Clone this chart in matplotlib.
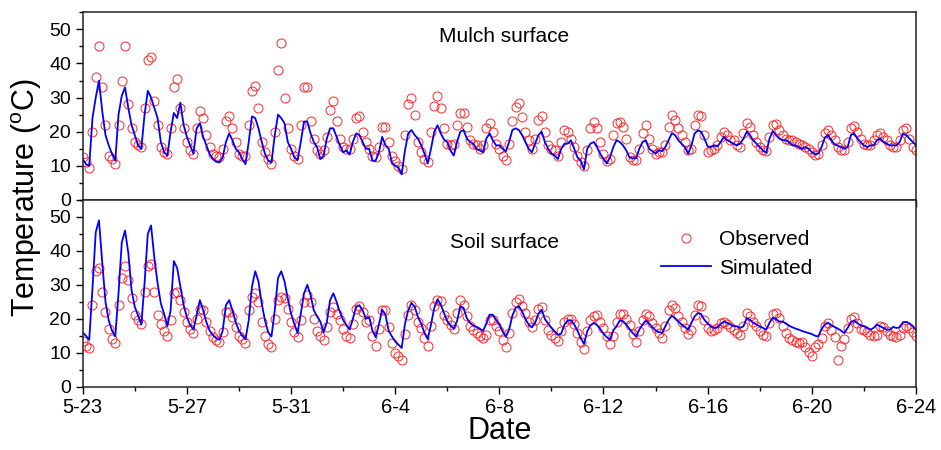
import numpy as np
import matplotlib
matplotlib.use('Agg')
import matplotlib.pyplot as plt
from matplotlib.ticker import MultipleLocator

plt.rcParams['font.family'] = ['Liberation Sans', 'DejaVu Sans']
plt.rcParams['mathtext.fontset'] = 'custom'
plt.rcParams['mathtext.rm'] = 'Liberation Sans'

# readings every 3 h (0, 3, ..., 21 h), one row per day starting 5-23
hours = [0, 3, 6, 9, 12, 15, 18, 21]
tick_days = [0, 4, 8, 12, 16, 20, 24, 28, 32]
tick_labels = ['5-23', '5-27', '5-31', '6-4', '6-8', '6-12', '6-16', '6-20', '6-24']

mulch_obs = [
    [12.5, 11, 9.5, 20, 36, 45, 33, 22],
    [13, 12, 10.5, 22, 35, 45, 28, 21],
    [17, 16, 15.5, 27, 41, 42, 29, 22],
    [15.5, 14, 13.5, 21, 33, 35.5, 27, 21],
    [17, 14.5, 13.5, 21, 26, 24, 19, 15.5],
    [13.5, 13, 12.5, 15, 23, 24.5, 21, 17],
    [13.5, 13, 13, 22, 32, 33.5, 27, 17],
    [14, 12, 10.5, 20, 38, 46, 30, 21],
    [15, 13, 12, 22, 33, 33, 23, 18],
    [14.5, 13.5, 14.5, 18.5, 26.5, 29, 23, 18],
    [15.5, 15, 15, 18, 24, 24.5, 20, 17],
    [15, 13, 12.5, 15.5, 21.5, 21.5, 17, 13],
    [11.5, 10, 9, 19, 28, 30, 25, 17],
    [14, 12, 11.2, 20, 27.5, 30.5, 27, 21],
    [16.5, 16, 16.5, 22, 25.5, 25.4, 21.4, 17.7],
    [16.5, 16, 15, 16, 21, 22.5, 20, 16.5],
    [15, 13, 11.7, 16.5, 23, 27.3, 28.3, 24.4],
    [20, 17.5, 15, 18, 23.5, 24.5, 20, 16],
    [15, 14.5, 13, 17, 20.5, 20, 18, 15.5],
    [13, 11, 10, 14.5, 21, 22.8, 21, 17],
    [13.5, 11.5, 12, 19, 22.5, 22.8, 21.5, 18],
    [12.5, 11.8, 11.7, 15, 19.5, 22, 18, 15],
    [13.6, 14, 14, 16, 21.4, 24.8, 23.4, 21],
    [19, 17, 14.5, 15, 22, 25, 24.5, 19],
    [14, 14.5, 15, 16, 18.5, 19.8, 19, 17.5],
    [17.5, 16, 15.5, 19.5, 22.5, 21.5, 19, 17],
    [15.5, 14.5, 14.4, 18.5, 21.9, 22.2, 20.6, 19],
    [18, 17.5, 17.5, 17, 16.5, 16, 15.5, 15],
    [14, 13.2, 13.5, 16, 19.5, 20.4, 19, 17.5],
    [15.5, 14.5, 14.6, 17, 21, 21.8, 20, 18],
    [16.5, 16, 16, 17.5, 19, 19.5, 18.5, 17.5],
    [16, 15.5, 15.5, 17.5, 20.5, 21, 18, 15.5],
]
mulch_obs_end = 14.5

mulch_sim = [
    [12, 10.5, 10, 24, 30, 35, 26, 19],
    [16, 13.5, 11.5, 25, 30.5, 33, 27, 22],
    [19, 16, 15, 25, 32, 30, 27, 24],
    [17, 14, 13, 20, 25.5, 24, 28.5, 22],
    [18.5, 16, 13.6, 21, 22.5, 18.5, 16, 13.5],
    [12, 11.2, 11, 12.5, 17, 19.5, 17.5, 15],
    [14, 12, 10.5, 17, 24.5, 24, 21, 17],
    [13.5, 11.5, 11, 19, 25, 24, 22.5, 17],
    [15, 12.5, 11.7, 17, 23, 23, 19.5, 17],
    [15.5, 12, 13, 18, 21, 21, 18.5, 16],
    [14, 14.5, 13.3, 17, 19.5, 19, 17, 15],
    [15, 11.5, 11.5, 14, 18.5, 16, 15, 11],
    [10, 9.5, 7.5, 14.5, 19.5, 20.5, 19, 18],
    [16, 13.6, 10.7, 15, 20, 21.9, 19.5, 17.7],
    [17, 14.5, 13, 17, 20, 20.5, 18, 17],
    [16.5, 15, 14.5, 14, 18, 19.5, 17.5, 16],
    [16, 15, 14.2, 17, 20.5, 21, 20.5, 19],
    [17, 15, 14, 16.5, 19, 20, 17, 15],
    [13.5, 13, 12, 15, 16.5, 16.5, 17.5, 15],
    [12.5, 11.5, 9, 15, 16.5, 17, 15.5, 13.5],
    [12, 10.7, 12.5, 15.5, 17.5, 17, 16, 14.5],
    [12.5, 12.2, 12.2, 15, 17, 17.5, 15, 14.3],
    [13.6, 14.6, 14.3, 15.5, 17.5, 19.6, 19, 17.5],
    [16.5, 15.5, 13.5, 16, 19.5, 20.4, 20, 18],
    [15.7, 15.5, 16, 15.7, 17, 18.5, 17.5, 17],
    [16.5, 16, 16.5, 18, 20, 19, 17.5, 16.5],
    [15.5, 14.5, 13.8, 18, 20.2, 19, 18, 17.5],
    [17.5, 17, 16, 16, 15.5, 15, 15.5, 15],
    [14, 13.4, 13.6, 15.5, 18.3, 19, 17.5, 16.3],
    [15.9, 15.5, 15, 15.5, 19, 19.5, 18, 17],
    [16, 15.5, 16, 16, 17.5, 18, 17, 16.5],
    [16, 16, 16, 17, 19.5, 19, 18, 17],
]
mulch_sim_end = 16

soil_obs = [
    [13.5, 12, 11.5, 24, 34, 35, 28, 22],
    [17, 14, 12.8, 24, 32, 35.5, 31.5, 26],
    [21, 19.5, 18.5, 28, 35.5, 36, 28, 21],
    [18.5, 16.5, 14.8, 19.5, 27.5, 28, 25.5, 22],
    [19, 17, 15.8, 20, 23, 22.5, 19, 16.5],
    [14.5, 13.8, 13.3, 16, 22, 22, 20.5, 17.5],
    [15, 14, 13, 22.5, 26.5, 27.5, 25, 19],
    [15, 12.5, 11.8, 20, 25.5, 26.5, 26, 23],
    [19, 16, 14.5, 19.5, 25, 27, 25, 20],
    [16.5, 15, 13.8, 17.5, 22, 23.5, 21.5, 19.5],
    [17, 15, 14.3, 18.5, 23, 23.7, 22, 19],
    [19.5, 15, 12, 17, 22.5, 22.5, 17.5, 13],
    [10, 9, 8, 15.5, 21, 24, 22.5, 19],
    [17.3, 14.3, 12, 17.8, 23.7, 25.5, 25.2, 21.2],
    [19.5, 18.1, 17, 21.7, 25.4, 24.2, 20.7, 17.8],
    [16.8, 15.8, 15, 14.2, 15.3, 19.7, 19.5, 17.8],
    [16.3, 13.8, 11.7, 15.8, 21.7, 24.9, 25.7, 23.7],
    [21.7, 19.2, 17.6, 19.7, 22.9, 23.5, 19.7, 16.6],
    [15.3, 14.3, 13.6, 16.3, 19.2, 19.9, 19.9, 18.6],
    [15.8, 13.3, 11.1, 16.3, 19.5, 20.9, 21.1, 19.2],
    [17.3, 14.8, 12.6, 14.8, 19.2, 21.4, 21.5, 19.9],
    [18.3, 15.6, 13.3, 16.3, 19.5, 21.5, 20.7, 18.8],
    [17.3, 15.8, 14.3, 17.8, 22.7, 24.2, 23.2, 20.9],
    [19, 17.3, 15.6, 16.8, 21.2, 24.2, 23.9, 19.7],
    [17.3, 16.5, 16.8, 17.3, 18.8, 19.2, 18.6, 17.6],
    [16.8, 15.8, 15.2, 17.8, 21.7, 20.7, 19.2, 18],
    [16.3, 15.3, 14.8, 18.8, 21.5, 21.7, 20.2, 17.8],
    [15.8, 14.3, 13.8, 13.3, 12.8, 13.3, 11.7, 10.1],
    [8.9, 11.7, 12.5, 14.3, 17.8, 18.8, 16.6, 14.6],
    [7.9, 12, 14, 17.3, 19.9, 20.5, 18.8, 17],
    [16.6, 16.1, 15.3, 15, 15.3, 18, 17.6, 16.5],
    [15.3, 14.8, 14.5, 15.3, 17.3, 18, 17.3, 16],
]
soil_obs_end = 14.8

soil_sim = [
    [16, 15, 13.8, 29, 45.5, 49, 36.5, 25],
    [19.5, 16.5, 14.8, 27.5, 42.5, 46, 39.5, 28.5],
    [23.5, 21, 18.3, 30.5, 45, 47.5, 38, 30.5],
    [24.5, 21.5, 17.8, 22.5, 37, 35, 29.5, 24],
    [20.5, 18.2, 16.8, 21, 25.5, 22.5, 19, 16.5],
    [15.2, 14.3, 13.8, 16.5, 24, 25.5, 22.5, 19],
    [16.5, 15, 14, 19.5, 29.5, 34, 31, 24.5],
    [19.5, 16, 14.8, 22.5, 32, 34, 31, 26],
    [21.5, 18.5, 15.8, 21.5, 27.5, 30, 27, 22.5],
    [20.7, 19.2, 16, 19, 25.5, 27.5, 25, 22],
    [19.7, 18.2, 16.8, 20, 23.5, 24, 22.5, 20],
    [20.5, 16.5, 14.6, 18.3, 22.7, 21.2, 16.5, 14.8],
    [13.3, 12.4, 11.4, 18.5, 22.5, 24.7, 23.5, 20.5],
    [18.6, 15.8, 14, 18.3, 23.2, 25.7, 24.2, 21.7],
    [19.3, 18, 17.1, 19.3, 23.7, 23.2, 20.2, 18.8],
    [18, 17.6, 17.1, 16.4, 18.6, 21.2, 21.2, 19.7],
    [18.3, 16.3, 14.7, 16.8, 20.9, 23.2, 23.7, 22.2],
    [19.9, 18.3, 17.5, 18.8, 21.5, 22.7, 19.9, 18.6],
    [17.3, 16.3, 15.3, 15.6, 18.3, 19.5, 19.6, 18.3],
    [16.5, 14.3, 12.6, 16.3, 18.1, 18.8, 18.2, 17],
    [15.6, 14.6, 13.8, 16.6, 17.8, 19.5, 19.3, 18.3],
    [17, 15.8, 14.8, 16.8, 18.3, 19.5, 18.6, 17.5],
    [16.6, 16.1, 15.8, 17.8, 19.7, 20.9, 20.2, 19.2],
    [18.3, 17.6, 16.8, 18.8, 20.7, 21.7, 21.4, 19.7],
    [18.6, 17.7, 17.3, 17.4, 18.5, 19.2, 18.8, 18.3],
    [17.8, 17.8, 17.3, 17.8, 20.2, 19.7, 18.8, 18.3],
    [17.8, 17.3, 16.8, 18.8, 20.3, 19.9, 19.2, 19.2],
    [18.6, 18, 17.5, 17.1, 16.8, 16.4, 16.1, 15.8],
    [15.5, 15, 14.8, 17, 18.3, 18.8, 18.1, 17.6],
    [17.1, 16.5, 15.8, 17.3, 19, 19.5, 18.7, 18.1],
    [17.8, 17.3, 16.8, 17.3, 18.3, 17.8, 17.3, 16.8],
    [16.8, 17.6, 17.3, 17.5, 19, 19.1, 18.6, 17.8],
]
soil_sim_end = 16.8


def series(rows, end):
    t = [d + h / 24 for d in range(len(rows)) for h in hours] + [len(rows)]
    v = [x for r in rows for x in r] + [end]
    return np.array(t), np.array(v)


fig = plt.figure(figsize=(9.41, 4.5), dpi=100)
ax1 = fig.add_axes([0.0879, 0.5556, 0.8855, 0.4171])
ax2 = fig.add_axes([0.0879, 0.1407, 0.8855, 0.4149], sharex=ax1)

panels = [(ax1, mulch_obs, mulch_obs_end, mulch_sim, mulch_sim_end, 'Mulch surface', 48),
          (ax2, soil_obs, soil_obs_end, soil_sim, soil_sim_end, 'Soil surface', 42.5)]

for ax, obs, obs_end, sim, sim_end, title, ty in panels:
    to, vo = series(obs, obs_end)
    ts, vs = series(sim, sim_end)
    ax.plot(to, vo, 'o', ms=6.5, mfc='none', mec='#ff2a2a', mew=0.7, label='Observed')
    ax.plot(ts, vs, '-', color='#0000ff', lw=1.3, label='Simulated')
    ax.text(16.2, ty, title, fontsize=15, ha='center', va='center')
    ax.set_xlim(0, 32)
    ax.set_ylim(0, 55)
    ax.yaxis.set_major_locator(MultipleLocator(10))
    ax.yaxis.set_minor_locator(MultipleLocator(5))
    ax.xaxis.set_minor_locator(MultipleLocator(2))
    ax.tick_params(which='major', direction='out', length=5, width=1.0, labelsize=14, colors='black')
    ax.tick_params(which='minor', direction='out', length=3, width=1.0)
    for s in ax.spines.values():
        s.set_linewidth(1.1)
        s.set_color('#222222')

ax2.set_xticks(tick_days)
ax2.set_xticklabels(tick_labels, fontsize=14.5)
ax1.tick_params(labelbottom=False)

ax2.set_xlabel('Date', fontsize=22, labelpad=-1)
fig.text(0.028, 0.56, r'Temperature ($^{\mathrm{o}}$C)', rotation=90, fontsize=22,
         ha='center', va='center')

ax2.legend(loc='upper left', bbox_to_anchor=(0.702, 0.488), bbox_transform=fig.transFigure,
           frameon=False, fontsize=15, numpoints=1, handlelength=2.4,
           handletextpad=0.4, labelspacing=0.45, borderpad=0, borderaxespad=0)

fig.savefig('out.png', dpi=100)
